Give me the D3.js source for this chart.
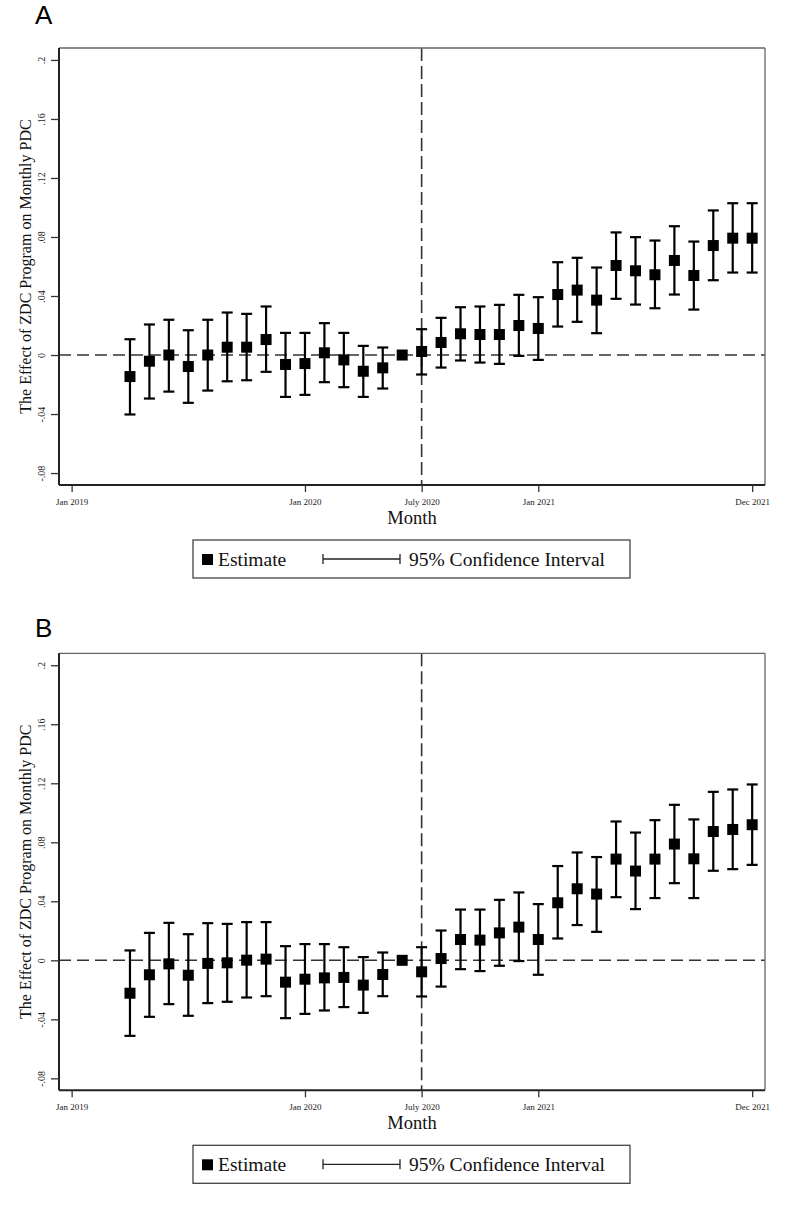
<!DOCTYPE html>
<html><head><meta charset="utf-8">
<script src="https://cdn.jsdelivr.net/npm/d3@7"></script>
<style>body{margin:0;background:#fff;} svg{display:block;}</style>
</head><body><svg id="chart" width="798" height="1205"></svg>
<script>
// ---- data ----
const months = ["2019-04","2019-05","2019-06","2019-07","2019-08","2019-09","2019-10","2019-11","2019-12",
  "2020-01","2020-02","2020-03","2020-04","2020-05","2020-06","2020-07","2020-08","2020-09","2020-10",
  "2020-11","2020-12","2021-01","2021-02","2021-03","2021-04","2021-05","2021-06","2021-07","2021-08",
  "2021-09","2021-10","2021-11","2021-12"];

const estA = [-0.0146,-0.0042,0.0,-0.0078,0.0,0.0053,0.0053,0.0105,-0.0064,-0.0058,0.0015,-0.0033,-0.0110,-0.0087,0.0,0.0024,
  0.0085,0.0144,0.0139,0.0139,0.0200,0.0180,0.0410,0.0440,0.0372,0.0607,0.0571,0.0544,0.0641,0.0539,0.0742,0.0792,0.0792];
const loA = [-0.0403,-0.0295,-0.0248,-0.0324,-0.0241,-0.0178,-0.0171,-0.0114,-0.0284,-0.0270,-0.0184,-0.0218,-0.0284,-0.0227,null,-0.0132,
  -0.0085,-0.0037,-0.0051,-0.0060,-0.0006,-0.0033,0.0193,0.0225,0.0148,0.0381,0.0342,0.0317,0.0410,0.0308,0.0507,0.0559,0.0559];
const hiA = [0.0107,0.0207,0.0239,0.0168,0.0239,0.0288,0.0279,0.0329,0.0150,0.0150,0.0216,0.0150,0.0062,0.0051,null,0.0175,
  0.0252,0.0324,0.0329,0.0340,0.0408,0.0392,0.0629,0.0659,0.0593,0.0831,0.0799,0.0776,0.0873,0.0769,0.0980,0.1029,0.1029];

const estB = [-0.0223,-0.0098,-0.0024,-0.0101,-0.0021,-0.0017,0.0001,0.0008,-0.0148,-0.0128,-0.0119,-0.0116,-0.0168,-0.0096,0.0,-0.0078,
  0.0012,0.0141,0.0137,0.0186,0.0225,0.0141,0.0390,0.0485,0.0449,0.0686,0.0605,0.0686,0.0788,0.0688,0.0873,0.0887,0.0919];
const loB = [-0.0512,-0.0383,-0.0297,-0.0376,-0.0290,-0.0281,-0.0252,-0.0243,-0.0392,-0.0363,-0.0340,-0.0317,-0.0356,-0.0243,null,-0.0245,
  -0.0178,-0.0060,-0.0073,-0.0037,-0.0005,-0.0098,0.0148,0.0239,0.0193,0.0428,0.0347,0.0422,0.0523,0.0422,0.0607,0.0618,0.0647];
const hiB = [0.0067,0.0186,0.0254,0.0177,0.0252,0.0247,0.0259,0.0259,0.0096,0.0110,0.0110,0.0089,0.0022,0.0053,null,0.0089,
  0.0202,0.0344,0.0344,0.0410,0.0460,0.0381,0.0639,0.0731,0.0700,0.0941,0.0866,0.0950,0.1054,0.0955,0.1142,0.1158,0.1192];

const yTicks = [-0.08,-0.04,0,0.04,0.08,0.12,0.16,0.2];
const yTickLabels = ["-.08","-.04","0",".04",".08",".12",".16",".2"];
const xTickMonths = ["2019-01","2020-01","2020-07","2021-01","2021-12"];
const xTickLabels = ["Jan 2019","Jan 2020","July 2020","Jan 2021","Dec 2021"];
const eventMonth = "2020-07";
const yTitle = "The Effect of ZDC Program on Monthly PDC";
const xTitle = "Month";
const legendLabels = ["Estimate","95% Confidence Interval"];

// ---- layout ----
const svg = d3.select("#chart");
const serif = "'Liberation Serif','Times New Roman',serif";
const left = 59, plotW = 706, plotH = 437;
const mIdx = s => { const [y,m] = s.split("-").map(Number); return (y-2019)*12 + (m-1); };

const x = d3.scaleLinear().domain([-0.65, 35.66]).range([0, plotW]);
const y = d3.scaleLinear().domain([-0.0881, 0.2081]).range([plotH, 0]);

function panel(top, letter, letterY, est, lo, hi) {
  svg.append("text").attr("x", 35).attr("y", letterY)
    .attr("font-family","'Liberation Sans',Arial,sans-serif").attr("font-size", 26).text(letter);

  const g = svg.append("g").attr("transform", `translate(${left},${top})`);

  // reference lines
  g.append("line").attr("x1",0).attr("x2",plotW).attr("y1",y(0)).attr("y2",y(0))
    .attr("stroke","#333").attr("stroke-width",1.6).attr("stroke-dasharray","12,6");
  g.append("line").attr("x1",x(mIdx(eventMonth))).attr("x2",x(mIdx(eventMonth))).attr("y1",0).attr("y2",plotH)
    .attr("stroke","#333").attr("stroke-width",1.6).attr("stroke-dasharray","13,5");

  // frame: top & right (thin gray)
  g.append("line").attr("x1",0).attr("x2",plotW).attr("y1",0).attr("y2",0).attr("stroke","#666").attr("stroke-width",1.3);
  g.append("line").attr("x1",plotW).attr("x2",plotW).attr("y1",0).attr("y2",plotH).attr("stroke","#666").attr("stroke-width",1.3);

  // y axis
  const ya = g.append("g").call(d3.axisLeft(y).tickValues(yTicks).tickSize(8).tickFormat((d,i)=>yTickLabels[i]));
  ya.select(".domain").attr("stroke","#222").attr("stroke-width",2).attr("d",`M0,0V${plotH}`);
  ya.selectAll(".tick line").attr("stroke","#333").attr("stroke-width",1.3);
  ya.selectAll(".tick text").attr("font-family",serif).attr("font-size",10).attr("fill","#222")
    .attr("text-anchor","middle").attr("dy",0).attr("x",0)
    .attr("transform","translate(-14,0) rotate(-90)");

  // x axis
  const xa = g.append("g").attr("transform",`translate(0,${plotH})`)
    .call(d3.axisBottom(x).tickValues(xTickMonths.map(mIdx)).tickSize(7).tickFormat((d,i)=>xTickLabels[i]));
  xa.select(".domain").attr("stroke","#222").attr("stroke-width",2).attr("d",`M0,0H${plotW}`);
  xa.selectAll(".tick line").attr("stroke","#333").attr("stroke-width",1.3);
  xa.selectAll(".tick text").attr("font-family",serif).attr("font-size",9).attr("fill","#222")
    .attr("y",20).attr("dy",0);

  // titles
  g.append("text").attr("transform",`translate(-28,${plotH/2}) rotate(-90)`).attr("text-anchor","middle")
    .attr("font-family",serif).attr("font-size",16).attr("fill","#111").text(yTitle);
  g.append("text").attr("x",plotW/2).attr("y",plotH+39).attr("text-anchor","middle")
    .attr("font-family",serif).attr("font-size",18.5).attr("fill","#111").text(xTitle);

  // data
  const data = months.map((m,i)=>({m:mIdx(m), est:est[i], lo:lo[i], hi:hi[i]}));
  const ci = data.filter(d=>d.lo!==null);
  const cap = 5.5, sq = 11;
  const eb = g.append("g").attr("stroke","#000").attr("stroke-width",2.2);
  eb.selectAll(".v").data(ci).join("line")
    .attr("x1",d=>x(d.m)).attr("x2",d=>x(d.m)).attr("y1",d=>y(d.lo)).attr("y2",d=>y(d.hi));
  eb.selectAll(".t").data(ci).join("line")
    .attr("x1",d=>x(d.m)-cap).attr("x2",d=>x(d.m)+cap).attr("y1",d=>y(d.hi)).attr("y2",d=>y(d.hi));
  eb.selectAll(".b").data(ci).join("line")
    .attr("x1",d=>x(d.m)-cap).attr("x2",d=>x(d.m)+cap).attr("y1",d=>y(d.lo)).attr("y2",d=>y(d.lo));
  g.append("g").selectAll("rect").data(data).join("rect")
    .attr("x",d=>x(d.m)-sq/2).attr("y",d=>y(d.est)-sq/2).attr("width",sq).attr("height",sq).attr("fill","#000");

  // legend
  const ly = plotH + 55;
  const lg = g.append("g").attr("transform",`translate(134,${ly})`);
  lg.append("rect").attr("x",0).attr("y",0).attr("width",437).attr("height",38)
    .attr("fill","#fff").attr("stroke","#444").attr("stroke-width",1.3);
  lg.append("rect").attr("x",9).attr("y",14).attr("width",11).attr("height",11).attr("fill","#000");
  lg.append("text").attr("x",25).attr("y",26).attr("font-family",serif).attr("font-size",19.5).attr("fill","#111").text(legendLabels[0]);
  const lc = lg.append("g").attr("stroke","#222").attr("stroke-width",1.3);
  lc.append("line").attr("x1",130).attr("x2",207).attr("y1",19).attr("y2",19);
  lc.append("line").attr("x1",130).attr("x2",130).attr("y1",14).attr("y2",24);
  lc.append("line").attr("x1",207).attr("x2",207).attr("y1",14).attr("y2",24);
  lg.append("text").attr("x",216).attr("y",26).attr("font-family",serif).attr("font-size",19.5).attr("fill","#111").text(legendLabels[1]);
}

panel(48, "A", 23.6, estA, loA, hiA);
panel(653.3, "B", 637, estB, loB, hiB);
</script></body></html>
